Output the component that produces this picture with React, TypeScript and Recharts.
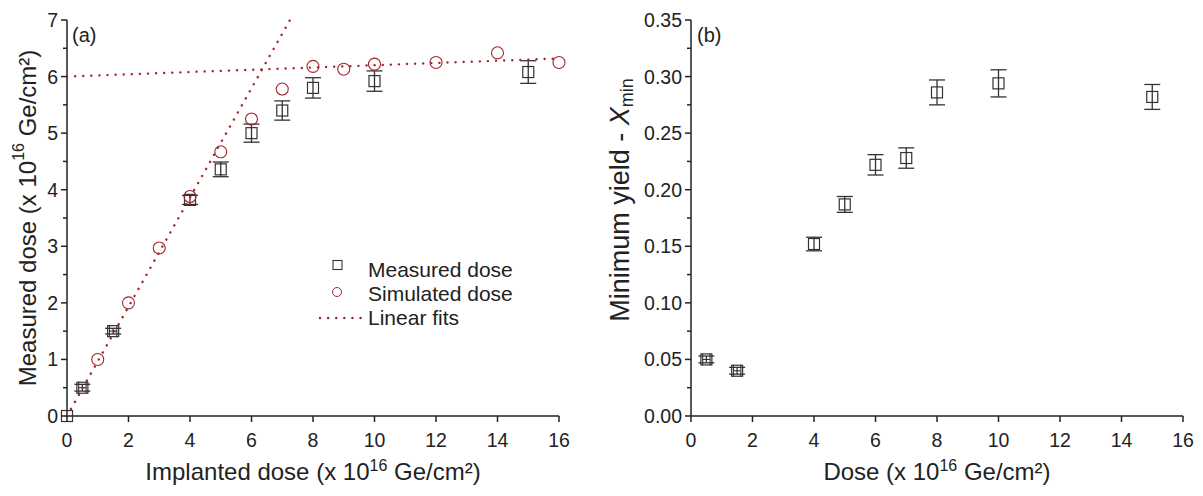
import React from "react";
import {
  ScatterChart,
  Scatter,
  XAxis,
  YAxis,
  ErrorBar,
  Legend,
} from "recharts";

// panel (a): measured vs simulated dose
const measX = [0, 0.5, 1.5, 4, 5, 6, 7, 8, 10, 15];
const measY = [0, 0.5, 1.5, 3.82, 4.36, 5.0, 5.4, 5.8, 5.92, 6.08];
const measErr = [0, 0.06, 0.05, 0.08, 0.13, 0.16, 0.17, 0.18, 0.18, 0.2];
const measXErr = [0, 0.12, 0.12, 0, 0, 0, 0, 0, 0, 0];

const simX = [1, 2, 3, 4, 5, 6, 7, 8, 9, 10, 12, 14, 16];
const simY = [1.0, 2.0, 2.97, 3.88, 4.67, 5.25, 5.78, 6.18, 6.13, 6.22, 6.25, 6.42, 6.25];

const fit1X = [0, 7.25];
const fit1Y = [0, 7];
const fit2X = [0, 16];
const fit2Y = [6.0, 6.32];

// panel (b): minimum yield
const yieldX = [0.5, 1.5, 4, 5, 6, 7, 8, 10, 15];
const yieldY = [0.05, 0.04, 0.152, 0.187, 0.222, 0.228, 0.286, 0.294, 0.282];
const yieldErr = [0.003, 0.003, 0.006, 0.007, 0.009, 0.009, 0.011, 0.012, 0.011];
const yieldXErr = [0.12, 0.12, 0, 0, 0, 0, 0, 0, 0];

const xTicks = [0, 2, 4, 6, 8, 10, 12, 14, 16];
const yTicksA = [0, 0.5, 1, 1.5, 2, 2.5, 3, 3.5, 4, 4.5, 5, 5.5, 6, 6.5, 7];
const yTicksB = [
  0, 0.025, 0.05, 0.075, 0.1, 0.125, 0.15, 0.175, 0.2, 0.225, 0.25, 0.275, 0.3, 0.325, 0.35,
];

const legendNames = ["Measured dose", "Simulated dose", "Linear fits"];

const FONT = "Arial, 'Liberation Sans', sans-serif";
const INK = "#222";
const RED = "#a3262c";

const measData = measX.map((x, i) => ({ x, y: measY[i], err: measErr[i], xerr: measXErr[i] }));
const simData = simX.map((x, i) => ({ x, y: simY[i] }));
const fit1 = fit1X.map((x, i) => ({ x, y: fit1Y[i] }));
const fit2 = fit2X.map((x, i) => ({ x, y: fit2Y[i] }));
const yieldData = yieldX.map((x, i) => ({ x, y: yieldY[i], err: yieldErr[i], xerr: yieldXErr[i] }));

const Square = (p: any) => (
  <rect x={p.cx - 5.5} y={p.cy - 5.5} width={11} height={11} fill="none" stroke="#333" strokeWidth={1.2} />
);
const Ring = (p: any) => (
  <circle cx={p.cx} cy={p.cy} r={6} fill="none" stroke={RED} strokeWidth={1.1} />
);
const NoDot = () => null;

const XTick = (p: any) => {
  const v = p.payload.value;
  return (
    <g>
      <line x1={p.x} x2={p.x} y1={p.y} y2={p.y + 6} stroke={INK} strokeWidth={1.5} />
      <text x={p.x} y={p.y + 31} textAnchor="middle" fontSize={19.5} fill={INK} fontFamily={FONT}>
        {v}
      </text>
    </g>
  );
};

const makeYTick = (step: number, digits: number) => (p: any) => {
  const v = p.payload.value;
  const major = Math.abs(v / step - Math.round(v / step)) < 1e-6;
  return (
    <g>
      <line x1={p.x} x2={p.x - (major ? 6 : 4)} y1={p.y} y2={p.y} stroke={INK} strokeWidth={1.5} />
      {major && (
        <text x={p.x - 9} y={p.y + 7} textAnchor="end" fontSize={19.5} fill={INK} fontFamily={FONT}>
          {v.toFixed(digits)}
        </text>
      )}
    </g>
  );
};

const XTitle = (text: string) => (props: any) => {
  const vb = props.viewBox;
  return (
    <text x={vb.x + vb.width / 2} y={vb.y + 64} textAnchor="middle" fontSize={24} fill={INK} fontFamily={FONT}>
      {text} (x 10
      <tspan dy={-9} fontSize={16}>16</tspan>
      <tspan dy={9}> Ge/cm²)</tspan>
    </text>
  );
};

const LegendA = () => (
  <svg width={220} height={80} style={{ overflow: "visible" }}>
    <rect x={9} y={4.5} width={9} height={9} fill="none" stroke="#333" strokeWidth={1.1} />
    <circle cx={13} cy={36} r={4.5} fill="none" stroke={RED} strokeWidth={1} />
    <line x1={-4} x2={42} y1={62} y2={62} stroke={RED} strokeWidth={2.4} strokeDasharray="0.1 8" strokeLinecap="round" />
    {legendNames.map((n, i) => (
      <text key={n} x={44} y={21 + i * 24} fontSize={21} fill={INK} fontFamily={FONT}>
        {n}
      </text>
    ))}
  </svg>
);

const frame = { stroke: INK, strokeWidth: 1.5 };
const fitLine = { stroke: RED, strokeWidth: 2.4, strokeDasharray: "0.1 8", strokeLinecap: "round" };

export default function App() {
  return (
    <div style={{ position: "absolute", left: 0, top: 0, width: 1203, height: 496, background: "#fff", display: "flex" }}>
      <ScatterChart width={600} height={496} margin={{ top: 20, right: 41, left: 0, bottom: 0 }}>
        <XAxis
          type="number"
          dataKey="x"
          domain={[0, 16]}
          ticks={xTicks}
          interval={0}
          height={80}
          tickSize={0}
          tickMargin={0}
          tickLine={false}
          axisLine={frame}
          tick={XTick}
          label={{ content: XTitle("Implanted dose") }}
        />
        <XAxis xAxisId="top" orientation="top" type="number" domain={[0, 16]} height={0} tick={false} tickLine={false} axisLine={frame} />
        <YAxis
          type="number"
          dataKey="y"
          domain={[0, 7]}
          ticks={yTicksA}
          interval={0}
          width={67}
          tickSize={0}
          tickMargin={0}
          tickLine={false}
          axisLine={frame}
          tick={makeYTick(1, 0)}
          label={{
            content: (props: any) => {
              const vb = props.viewBox;
              const cy = vb.y + vb.height / 2;
              return (
                <text x={27} y={cy} transform={`rotate(-90 27 ${cy})`} textAnchor="middle" dominantBaseline="central" fontSize={24} fill={INK} fontFamily={FONT}>
                  Measured dose (x 10
                  <tspan dy={-9} fontSize={16}>16</tspan>
                  <tspan dy={9}> Ge/cm²)</tspan>
                </text>
              );
            },
          }}
        />
        <YAxis yAxisId="right" orientation="right" type="number" domain={[0, 7]} width={0} tick={false} tickLine={false} axisLine={frame} />
        <Scatter data={fit1} shape={NoDot} line={fitLine} isAnimationActive={false} />
        <Scatter data={fit2} shape={NoDot} line={fitLine} isAnimationActive={false} />
        <Scatter data={measData} shape={Square} isAnimationActive={false}>
          <ErrorBar dataKey="err" direction="y" width={8} stroke="#333" strokeWidth={1.3} />
          <ErrorBar dataKey="xerr" direction="x" width={6} stroke="#333" strokeWidth={1.1} />
        </Scatter>
        <Scatter data={simData} shape={Ring} isAnimationActive={false} />
        <Legend
          layout="vertical"
          verticalAlign="middle"
          align="center"
          content={LegendA}
          wrapperStyle={{ position: "absolute", left: 324, top: 256, width: 220 }}
        />
        <text x={72} y={42} fontSize={20} fill={INK} fontFamily={FONT}>(a)</text>
      </ScatterChart>
      <ScatterChart width={603} height={496} margin={{ top: 20, right: 20, left: 0, bottom: 0 }}>
        <XAxis
          type="number"
          dataKey="x"
          domain={[0, 16]}
          ticks={xTicks}
          interval={0}
          height={80}
          tickSize={0}
          tickMargin={0}
          tickLine={false}
          axisLine={frame}
          tick={XTick}
          label={{ content: XTitle("Dose") }}
        />
        <XAxis xAxisId="top" orientation="top" type="number" domain={[0, 16]} height={0} tick={false} tickLine={false} axisLine={frame} />
        <YAxis
          type="number"
          dataKey="y"
          domain={[0, 0.35]}
          ticks={yTicksB}
          interval={0}
          width={91}
          tickSize={0}
          tickMargin={0}
          tickLine={false}
          axisLine={frame}
          tick={makeYTick(0.05, 2)}
          label={{
            content: (props: any) => {
              const vb = props.viewBox;
              const cy = vb.y + vb.height / 2 - 18;
              return (
                <text x={20} y={cy} transform={`rotate(-90 20 ${cy})`} textAnchor="middle" dominantBaseline="central" fontSize={27} fill={INK} fontFamily={FONT}>
                  Minimum yield - <tspan fontStyle="italic">X</tspan>
                  <tspan dy={7} fontSize={18}>min</tspan>
                </text>
              );
            },
          }}
        />
        <YAxis yAxisId="right" orientation="right" type="number" domain={[0, 0.35]} width={0} tick={false} tickLine={false} axisLine={frame} />
        <Scatter data={yieldData} shape={Square} isAnimationActive={false}>
          <ErrorBar dataKey="err" direction="y" width={8} stroke="#333" strokeWidth={1.3} />
          <ErrorBar dataKey="xerr" direction="x" width={6} stroke="#333" strokeWidth={1.1} />
        </Scatter>
        <text x={97} y={42} fontSize={20} fill={INK} fontFamily={FONT}>(b)</text>
      </ScatterChart>
    </div>
  );
}
